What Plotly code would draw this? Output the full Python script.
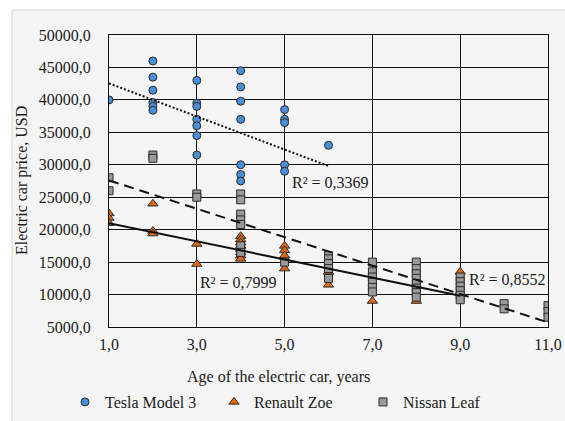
import plotly.graph_objects as go

# ---- data ----
tesla_x = [1, 2, 2, 2, 2, 2, 2, 3, 3, 3, 3, 3, 3, 3, 4, 4, 4, 4, 4, 4, 4, 5, 5, 5, 5, 5, 6]
tesla_y = [40000, 46000, 43500, 41500, 39600, 39000, 38400,
           43000, 39500, 39000, 37000, 36000, 34500, 31500,
           44500, 42000, 39800, 37000, 30000, 28500, 27500,
           38500, 37000, 36500, 30000, 29000, 33000]

renault_x = [1, 1, 1, 2, 2, 2, 3, 3, 4, 4, 4, 4, 4, 4, 4, 4, 5, 5, 5, 5, 6, 6, 7, 8, 9, 9]
renault_y = [22500, 21800, 21000, 24000, 19800, 19400, 17800, 14700,
             19000, 18500, 18000, 17500, 17000, 16500, 16000, 15500,
             17500, 16800, 16000, 14000, 13500, 11500, 9000, 9000, 13500, 10300]

nissan_x = [1, 1, 2, 2, 3, 3, 4, 4, 4, 4, 4, 4, 4, 5, 6, 6, 6, 6, 6,
            7, 7, 7, 7, 7, 7, 8, 8, 8, 8, 8, 8, 8, 8, 9, 9, 9, 9, 9, 9, 10, 10, 11, 11, 11]
nissan_y = [28000, 26000, 31500, 31000, 25500, 25000,
            25500, 24600, 22400, 21500, 20800, 17500, 16500,
            15000, 16000, 15500, 14800, 14000, 12500,
            15000, 13500, 12700, 11900, 11100, 10400,
            15000, 14000, 13200, 12500, 11700, 11000, 10300, 9600,
            12700, 12000, 11300, 10600, 9900, 9200,
            8600, 7800, 8300, 7400, 6500]

# linear trend lines (endpoints as drawn in the reference)
tesla_trend_x = [1, 6]
tesla_trend_y = [42550, 29800]
renault_trend_x = [1, 9]
renault_trend_y = [21000, 9800]
nissan_trend_x = [1, 11]
nissan_trend_y = [27600, 5700]

r2_labels = ["R² = 0,3369", "R² = 0,7999", "R² = 0,8552"]
r2_x = [5.12, 3.02, 9.16]
r2_y = [27200, 11900, 12350]

x_title = "Age of the electric car, years"
y_title = "Electric car price, USD"

FONT = "Liberation Serif"
TXT = "#1a1a1a"
EDGE = "#2a2a2a"

fig = go.Figure()
fig.add_trace(go.Scatter(x=tesla_x, y=tesla_y, mode="markers", name="Tesla Model 3",
                         marker=dict(symbol="circle", size=8, color="#4a8fd6",
                                     line=dict(color=EDGE, width=1))))
fig.add_trace(go.Scatter(x=renault_x, y=renault_y, mode="markers", name="Renault Zoe",
                         marker=dict(symbol="triangle-up", size=9, color="#e2680f",
                                     line=dict(color=EDGE, width=1))))
fig.add_trace(go.Scatter(x=nissan_x, y=nissan_y, mode="markers", name="Nissan Leaf",
                         marker=dict(symbol="square", size=8, color="#9a9a9a",
                                     line=dict(color=EDGE, width=1))))

fig.add_trace(go.Scatter(x=tesla_trend_x, y=tesla_trend_y, mode="lines", showlegend=False,
                         hoverinfo="skip", line=dict(color="#111", width=2, dash="2px,2px")))
fig.add_trace(go.Scatter(x=renault_trend_x, y=renault_trend_y, mode="lines", showlegend=False,
                         hoverinfo="skip", line=dict(color="#111", width=2)))
fig.add_trace(go.Scatter(x=nissan_trend_x, y=nissan_trend_y, mode="lines", showlegend=False,
                         hoverinfo="skip", line=dict(color="#111", width=2, dash="10px,6px")))

for t, x, y in zip(r2_labels, r2_x, r2_y):
    fig.add_annotation(x=x, y=y, xref="x", yref="y", text=t, showarrow=False,
                       xanchor="left", yanchor="middle",
                       font=dict(family=FONT, size=16, color=TXT))

W, H = 565, 421
L, R, T, B = 109, 17, 35, 94
pw, ph = W - L - R, H - T - B

# axis titles
fig.add_annotation(xref="paper", yref="paper", x=(278 - L) / pw, y=-(377 - T - ph) / ph,
                   text=x_title, showarrow=False, xanchor="center", yanchor="middle",
                   font=dict(family=FONT, size=16, color=TXT))
fig.add_annotation(xref="paper", yref="paper", x=(22 - L) / pw, y=0.5, textangle=-90,
                   text=y_title, showarrow=False, xanchor="center", yanchor="middle",
                   font=dict(family=FONT, size=16, color=TXT))

# light grey chart-area background with thin border
fig.add_shape(type="rect", xref="paper", yref="paper", layer="below",
              x0=(12 - L) / pw, x1=(W + 2 - L) / pw,
              y0=-(H + 2 - T - ph) / ph, y1=(ph + (T - 10)) / ph,
              fillcolor="#f5f5f5", line=dict(color="#d6d6d6", width=1))

fig.update_layout(
    width=W, height=H,
    margin=dict(l=L, r=R, t=T, b=B, autoexpand=False),
    paper_bgcolor="white",
    plot_bgcolor="#f5f5f5",
    separators=", ",
    font=dict(family=FONT, size=16, color=TXT),
    showlegend=True,
    legend=dict(orientation="h", x=(65 - L) / pw, xanchor="left",
                y=-(402 - T - ph) / ph, yanchor="middle",
                font=dict(family=FONT, size=16, color=TXT),
                bgcolor="rgba(0,0,0,0)", entrywidth=104, itemwidth=30,
                traceorder="normal"),
    xaxis=dict(range=[1, 11], tick0=1, dtick=2, tickformat=".1f", automargin=False,
               showgrid=True, gridcolor="#111", gridwidth=1,
               showline=True, linecolor="#111", linewidth=1, mirror=True,
               zeroline=False, ticks="", ticklabelstandoff=3,
               tickfont=dict(family=FONT, size=16, color=TXT)),
    yaxis=dict(range=[5000, 50000], tick0=5000, dtick=5000, tickformat=".1f", automargin=False,
               showgrid=True, gridcolor="#111", gridwidth=1,
               showline=True, linecolor="#111", linewidth=1, mirror=True,
               zeroline=False, ticks="", ticklabelstandoff=14,
               tickfont=dict(family=FONT, size=16, color=TXT)),
)

fig.write_html("out.html")
